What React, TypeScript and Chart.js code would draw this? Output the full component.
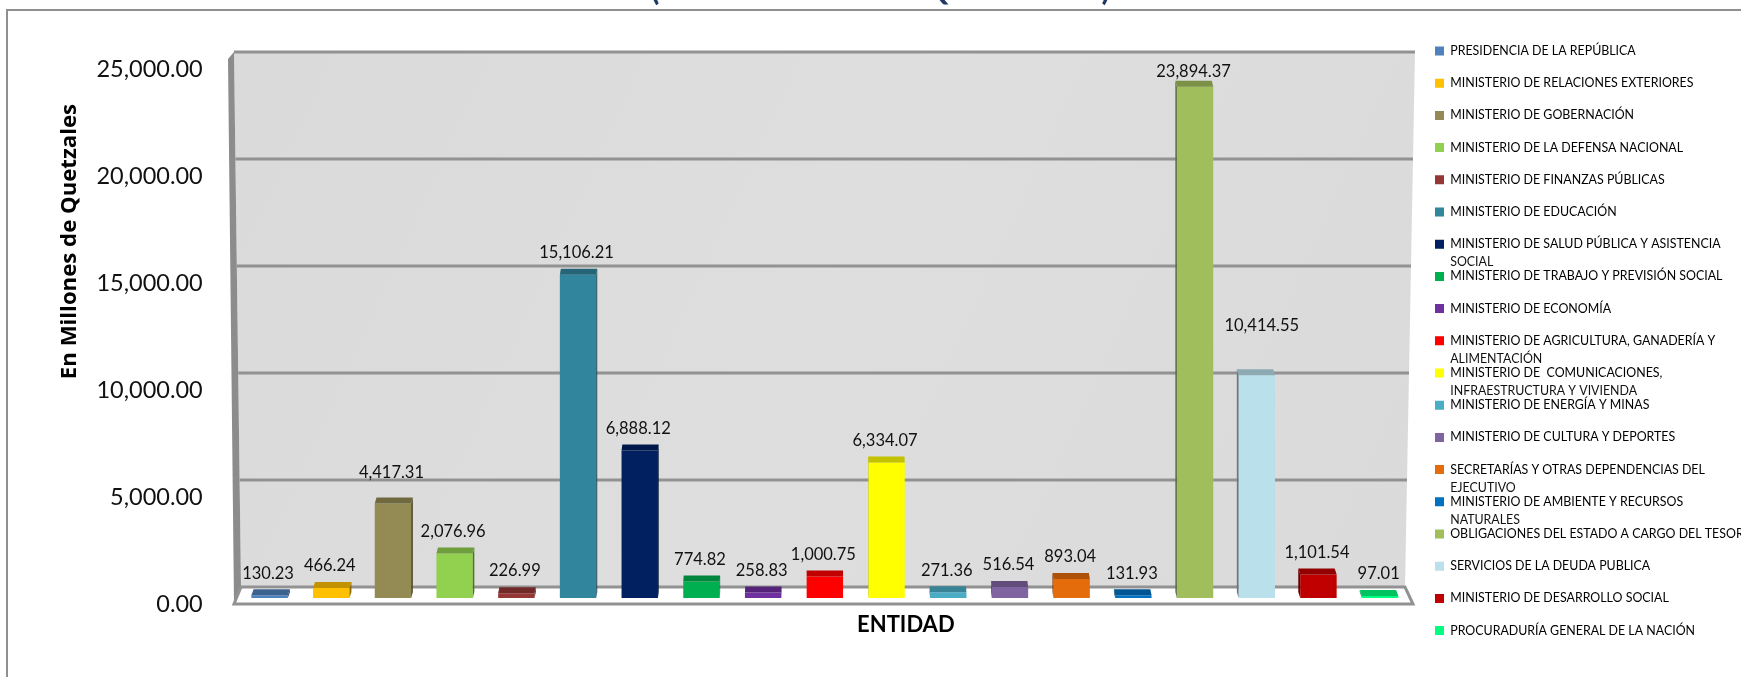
import React, { useEffect, useRef } from "react";
import { Chart, registerables } from "chart.js";

Chart.register(...registerables);

const TITLE = "(EN MILLONES DE QUETZALES)";
const Y_TITLE = "En Millones de Quetzales";
const X_TITLE = "ENTIDAD";

const categories = [
  "PRESIDENCIA DE LA REPÚBLICA",
  "MINISTERIO DE RELACIONES EXTERIORES",
  "MINISTERIO DE GOBERNACIÓN",
  "MINISTERIO DE LA DEFENSA NACIONAL",
  "MINISTERIO DE FINANZAS PÚBLICAS",
  "MINISTERIO DE EDUCACIÓN",
  "MINISTERIO DE SALUD PÚBLICA Y ASISTENCIA",
  "MINISTERIO DE TRABAJO Y PREVISIÓN SOCIAL",
  "MINISTERIO DE ECONOMÍA",
  "MINISTERIO DE AGRICULTURA, GANADERÍA Y",
  "MINISTERIO DE  COMUNICACIONES,",
  "MINISTERIO DE ENERGÍA Y MINAS",
  "MINISTERIO DE CULTURA Y DEPORTES",
  "SECRETARÍAS Y OTRAS DEPENDENCIAS DEL",
  "MINISTERIO DE AMBIENTE Y RECURSOS",
  "OBLIGACIONES DEL ESTADO A CARGO DEL TESOR",
  "SERVICIOS DE LA DEUDA PUBLICA",
  "MINISTERIO DE DESARROLLO SOCIAL",
  "PROCURADURÍA GENERAL DE LA NACIÓN",
];

const categoryContinuations: Record<number, string> = {
  6: "SOCIAL",
  9: "ALIMENTACIÓN",
  10: "INFRAESTRUCTURA Y VIVIENDA",
  13: "EJECUTIVO",
  14: "NATURALES",
};

const values = [
  130.23, 466.24, 4417.31, 2076.96, 226.99, 15106.21, 6888.12, 774.82, 258.83,
  1000.75, 6334.07, 271.36, 516.54, 893.04, 131.93, 23894.37, 10414.55, 1101.54,
  97.01,
];

const colors = [
  "#4F81BD", "#FFC000", "#948A54", "#92D050", "#953735", "#31859C", "#002060",
  "#00B050", "#7030A0", "#FF0000", "#FFFF00", "#4BACC6", "#8064A2", "#E46C0A",
  "#0070C0", "#A0BF5C", "#B9E0EB", "#C00000", "#00FF80",
];

const FONT = "Lato";
const AREA = { left: 238.7, right: 1411, top: 63, bottom: 598 };
const LEGEND_FONT = 12.4;
const LEGEND_PAD = 32.2 - LEGEND_FONT;
const LEGEND_TOP_ROW = 51;
const CAP_DEPTH = 6;

function shade(hex: string, k: number) {
  const n = parseInt(hex.slice(1), 16);
  const c = (s: number) => Math.round(((n >> s) & 255) * k);
  return `rgb(${c(16)},${c(8)},${c(0)})`;
}

function poly(ctx: CanvasRenderingContext2D, pts: number[][], fill: string) {
  ctx.beginPath();
  pts.forEach(([x, y], i) => (i ? ctx.lineTo(x, y) : ctx.moveTo(x, y)));
  ctx.closePath();
  ctx.fillStyle = fill;
  ctx.fill();
}

function shiftTitle(scale: any, along: "x" | "y", d: number) {
  if (scale.__shifted) return;
  scale.__shifted = true;
  const orig = scale.drawTitle;
  const [a, b] = along === "x" ? ["left", "right"] : ["top", "bottom"];
  scale.drawTitle = function () {
    const pa = this[a];
    const pb = this[b];
    this[a] = pa + d;
    this[b] = pb + d;
    orig.call(this);
    this[a] = pa;
    this[b] = pb;
  };
}

const scenePlugin = {
  id: "scene",
  afterLayout(chart: any) {
    const lg = chart.legend;
    if (!lg) return;
    lg.left = 1435 - LEGEND_PAD;
    lg.right = 1741;
    lg.top = LEGEND_TOP_ROW - LEGEND_FONT / 2 - LEGEND_PAD;
    lg.bottom = 677;
  },
  beforeDraw(chart: any) {
    const { ctx, scales } = chart;
    shiftTitle(scales.y, "y", -89);
    shiftTitle(scales.x, "x", 81);
    ctx.save();
    ctx.fillStyle = "#ffffff";
    ctx.fillRect(0, 0, chart.width, chart.height);
    ctx.strokeStyle = "#8f8f8f";
    ctx.lineWidth = 2;
    ctx.beginPath();
    ctx.moveTo(7, 677);
    ctx.lineTo(7, 10);
    ctx.lineTo(1741, 10);
    ctx.stroke();
    ctx.restore();
  },
  beforeDatasetsDraw(chart: any) {
    const { ctx, scales } = chart;
    const y = scales.y;
    const back = (v: number) => y.getPixelForValue(v) - 11;
    const yTop = back(25000);
    const yBot = back(0);
    const leftAt = (p: number) => 234 + ((p - yTop) / (yBot - yTop)) * 7;
    const rightAt = (p: number) => 1415 - ((p - yTop) / (yBot - yTop)) * 10;
    ctx.save();
    const g = ctx.createLinearGradient(234, yTop, 1415, yBot);
    g.addColorStop(0, "#dadada");
    g.addColorStop(0.5, "#dedede");
    g.addColorStop(1, "#dadada");
    poly(ctx, [[leftAt(yTop), yTop], [rightAt(yTop), yTop], [rightAt(yBot), yBot], [leftAt(yBot), yBot]], g as any);
    const frontBase = yBot + 17;
    poly(ctx, [[228, yTop + 7], [leftAt(yTop), yTop], [leftAt(yBot), yBot], [234, frontBase]], "#8c8c8c");
    ctx.strokeStyle = "#929292";
    ctx.lineWidth = 3;
    for (let v = 5000; v <= 25000; v += 5000) {
      const p = back(v);
      ctx.beginPath();
      ctx.moveTo(leftAt(p), p);
      ctx.lineTo(rightAt(p), p);
      ctx.stroke();
    }
    ctx.beginPath();
    ctx.moveTo(leftAt(yBot), yBot);
    ctx.lineTo(rightAt(yBot), yBot);
    ctx.lineTo(1413, frontBase);
    ctx.lineTo(234, frontBase);
    ctx.closePath();
    ctx.fillStyle = "#ffffff";
    ctx.fill();
    ctx.stroke();
    ctx.restore();
  },
  afterDatasetsDraw(chart: any) {
    const { ctx, scales } = chart;
    const mid = (scales.x.left + scales.x.right) / 2;
    const meta = chart.getDatasetMeta(0);
    ctx.save();
    meta.data.forEach((bar: any, i: number) => {
      const l = bar.x - bar.width / 2;
      const r = bar.x + bar.width / 2;
      const s = (mid - bar.x) * 0.004;
      const edge = s > 0 ? r : l;
      poly(
        ctx,
        [[edge, bar.y], [edge + s, bar.y - CAP_DEPTH], [edge + s, bar.base - CAP_DEPTH], [edge, bar.base]],
        shade(colors[i], 0.55)
      );
      poly(
        ctx,
        [[l, bar.y], [r, bar.y], [r + s, bar.y - CAP_DEPTH], [l + s, bar.y - CAP_DEPTH]],
        shade(colors[i], 0.76)
      );
    });
    ctx.fillStyle = "#111111";
    ctx.font = `16.5px ${FONT}`;
    ctx.textAlign = "center";
    ctx.textBaseline = "middle";
    meta.data.forEach((bar: any, i: number) => {
      const lift = i === 2 ? 31 : i === 16 ? 49 : i === 15 ? 15 : 22;
      const nudge = i === 16 ? 5 : -1.5;
      ctx.fillText(
        values[i].toLocaleString("en-US", { minimumFractionDigits: 2, maximumFractionDigits: 2 }),
        bar.x + nudge,
        bar.y - lift
      );
    });
    ctx.restore();
  },
  afterDraw(chart: any) {
    const { ctx, legend } = chart;
    if (!legend) return;
    ctx.save();
    ctx.fillStyle = "#111111";
    ctx.font = `${LEGEND_FONT}px ${FONT}`;
    ctx.textAlign = "left";
    ctx.textBaseline = "middle";
    Object.entries(categoryContinuations).forEach(([k, text]) => {
      ctx.fillText(text, 1435 + 9 + LEGEND_FONT / 2, LEGEND_TOP_ROW + Number(k) * 32.2 + 18);
    });
    ctx.restore();
  },
};

export default function App() {
  const ref = useRef<HTMLCanvasElement>(null);
  useEffect(() => {
    document.body.style.margin = "0";
    document.body.style.overflow = "hidden";
    const chart = new Chart(ref.current as HTMLCanvasElement, {
      type: "bar",
      data: {
        labels: categories,
        datasets: [
          {
            data: values,
            backgroundColor: colors,
            barPercentage: 0.59,
            categoryPercentage: 1,
          },
        ],
      },
      plugins: [scenePlugin],
      options: {
        responsive: false,
        animation: false,
        layout: { padding: { left: 20, right: 0, top: 0, bottom: 0 } },
        font: { family: FONT },
        scales: {
          x: {
            grid: { display: false, drawTicks: false },
            border: { display: false },
            ticks: { display: false },
            title: {
              display: true,
              text: X_TITLE,
              color: "#000",
              font: { family: FONT, size: 22, weight: "bold" },
              padding: { top: 0, bottom: 39 },
            },
            afterFit(axis: any) {
              axis.height = 677 - AREA.bottom;
            },
          },
          y: {
            min: 0,
            max: 25000,
            grid: { display: false, drawTicks: false },
            border: { display: false },
            ticks: {
              stepSize: 5000,
              padding: 36,
              labelOffset: 6,
              color: "#111",
              font: { family: FONT, size: 23.5 },
              callback: (v: any) =>
                Number(v).toLocaleString("en-US", { minimumFractionDigits: 2, maximumFractionDigits: 2 }),
            },
            title: {
              display: true,
              text: Y_TITLE,
              color: "#000",
              font: { family: "Open Sans", size: 22.2, weight: "bold" },
              padding: { top: 36, bottom: 0 },
            },
            afterFit(axis: any) {
              axis.width = AREA.left - 20;
            },
          },
        },
        plugins: {
          tooltip: { enabled: false },
          title: {
            display: true,
            text: TITLE,
            color: "#1F3864",
            font: { family: FONT, size: 31.5, weight: "bold" },
            padding: { top: -29.4, bottom: 54.6 },
          },
          legend: {
            display: true,
            position: "right",
            align: "start",
            maxWidth: 1741 - AREA.right,
            labels: {
              boxWidth: 9,
              boxHeight: 9,
              padding: LEGEND_PAD,
              color: "#111111",
              font: { family: FONT, size: LEGEND_FONT },
              generateLabels: () =>
                categories.map((text, i) => ({
                  text,
                  fillStyle: colors[i],
                  strokeStyle: colors[i],
                  lineWidth: 0,
                  hidden: false,
                  index: i,
                })),
            },
          },
        },
      },
    } as any);
    return () => chart.destroy();
  }, []);
  return (
    <canvas
      ref={ref}
      width={1741}
      height={677}
      style={{ position: "fixed", left: 0, top: 0, width: 1741, height: 677, display: "block" }}
    />
  );
}
